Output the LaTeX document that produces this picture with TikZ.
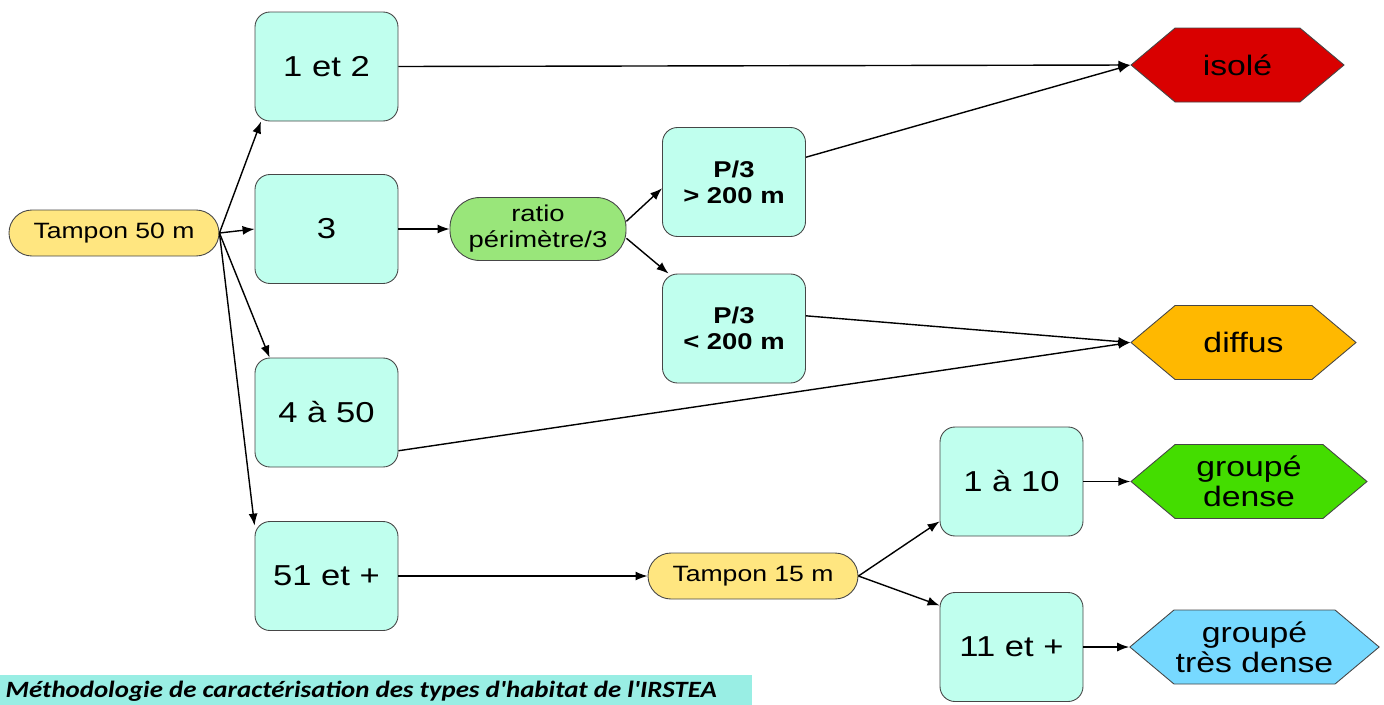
\documentclass[tikz,border=0pt]{standalone}
\usepackage{fontspec}
\setmainfont{Liberation Sans}[FakeStretch=1.2]
\newfontfamily\legendfont{Carlito}[FakeStretch=1.15]
\usepackage{tikz}
\usetikzlibrary{arrows.meta, shapes.symbols}

\definecolor{boxcyan}{RGB}{192,255,238}
\definecolor{tamponyellow}{RGB}{255,230,128}
\definecolor{ratiogreen}{RGB}{153,230,122}
\definecolor{isolered}{RGB}{217,0,0}
\definecolor{diffusorange}{RGB}{255,184,0}
\definecolor{densegreen}{RGB}{68,221,0}
\definecolor{tresdenseblue}{RGB}{119,217,255}
\definecolor{bandcyan}{RGB}{153,238,228}
\definecolor{edgegray}{RGB}{70,70,70}

\tikzset{every picture/.style={line width=0.8pt},
  classe/.style={draw=edgegray, line width=0.5pt, fill=boxcyan, rounded corners=0.3cm,
    minimum width=2.86cm, minimum height=2.18cm, align=center, font=\fontsize{16.4}{19}\selectfont},
  critere/.style={classe, font=\bfseries\fontsize{13}{14.7}\selectfont},
  tampon/.style={draw=edgegray, line width=0.5pt, fill=tamponyellow, rounded corners=0.46cm,
    minimum width=4.2cm, minimum height=0.92cm, font=\fontsize{12.6}{15}\selectfont},
  ratio/.style={tampon, fill=ratiogreen, rounded corners=0.6cm, minimum width=3.52cm,
    minimum height=1.26cm, align=center, font=\fontsize{13}{14.7}\selectfont},
  habitat/.style={draw=edgegray, line width=0.5pt, shape=signal, signal to=west and east,
    signal pointer angle=80, minimum height=1.48cm, align=center, inner sep=1pt,
    font=\fontsize{16}{17}\selectfont},
  fleche/.style={-{Latex[length=2.4mm,width=1.8mm]}}}

\begin{document}
\begin{tikzpicture}

          \useasboundingbox (0,0) rectangle (27.68,-14.08);

          \node[tampon] (t50) at (2.28,-4.66){Tampon 50 m};

          \node[classe] (b12) at (6.53,-1.33){1 et 2};
          \node[classe] (b3) at (6.53,-4.58){3};
          \node[classe] (b450) at (6.53,-8.25){4 à 50};
          \node[classe] (b51) at (6.53,-11.52){51 et +};

          \node[ratio] (ratio) at (10.76,-4.58){ratio\\périmètre/3};
          \node[critere] (pgt) at (14.68,-3.64){P/3\\> 200 m};
          \node[critere] (plt) at (14.68,-6.57){P/3\\< 200 m};

          \node[tampon] (t15) at (15.06,-11.52){Tampon 15 m};
          \node[classe] (b110) at (20.23,-9.63){1 à 10};
          \node[classe] (b11) at (20.23,-12.94){11 et +};

          \node[habitat, fill=isolered, minimum width=4.26cm] (isole) at (24.75,-1.30){isolé};
          \node[habitat, fill=diffusorange, minimum width=4.5cm] (diffus) at (24.87,-6.85){diffus};
          \node[habitat, fill=densegreen, minimum width=4.72cm] (gdense) at (24.98,-9.63){groupé\\dense};
          \node[habitat, fill=tresdenseblue, minimum width=4.94cm] (gtdense) at (25.09,-12.94){groupé\\très dense};

          \draw[fleche](t50.east)--(b12.220);
          \draw[fleche](t50.east)--(b3.west);
          \draw[fleche](t50.east)--(b450.136);
          \draw[fleche](t50.east)--(b51.145);

          \draw[fleche](b12.east)--(isole.west);
          \draw[fleche](b3.east)--(ratio.west);
          \draw[fleche](ratio.5)--(pgt.185);
          \draw[fleche](ratio.-6)--(plt.140);
          \draw[fleche](pgt.19)--(isole.west);
          \draw[fleche](plt.10)--(diffus.west);
          \draw[fleche](b450.-28)--(diffus.west);

          \draw[fleche](b51.east)--(t15.west);
          \draw[fleche](t15.east)--(b110.209);
          \draw[fleche](t15.east)--(b11.150);
          \draw[fleche](b110.east)--(gdense.west);
          \draw[fleche](b11.east)--(gtdense.west);

          \fill[bandcyan] (0,-13.5) rectangle (15.04,-14.5);
          \node[anchor=base west, inner sep=0pt, font=\legendfont\bfseries\itshape\fontsize{13.3}{15}\selectfont] (legende) at (0.1,-13.94){Méthodologie de caractérisation des types d'habitat de l'IRSTEA};

        \end{tikzpicture}
\end{document}
